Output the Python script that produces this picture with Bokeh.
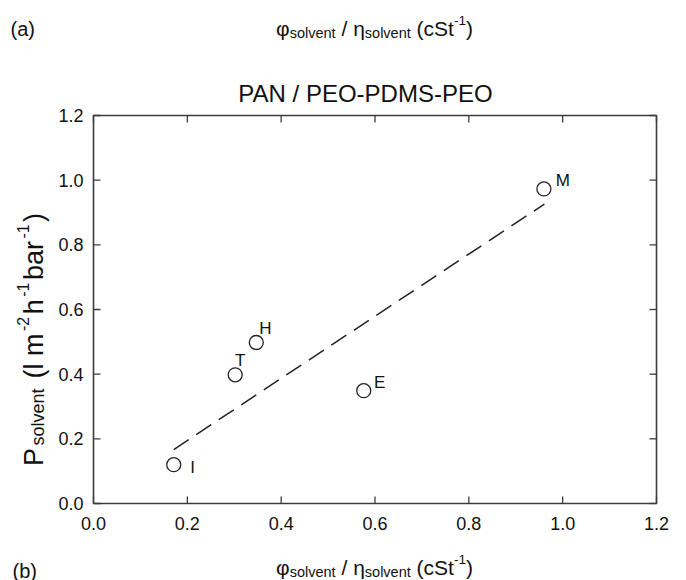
import math
from bokeh.plotting import figure
from bokeh.models import Label, LabelSet, ColumnDataSource, Range1d
from bokeh.core.properties import value
from bokeh.embed import file_html
from bokeh.resources import INLINE

# ---------------- data ----------------
solvent_names = ["I", "T", "H", "E", "M"]
phi_over_eta = [0.171, 0.302, 0.347, 0.576, 0.960]      # phi_solvent / eta_solvent (cSt^-1)
p_solvent = [0.120, 0.398, 0.498, 0.349, 0.973]         # permeance (l m^-2 h^-1 bar^-1)
fit_x = [0.171, 0.961]
fit_y = [0.167, 0.926]
tick_values = [0.0, 0.2, 0.4, 0.6, 0.8, 1.0, 1.2]
tick_labels = ["0.0", "0.2", "0.4", "0.6", "0.8", "1.0", "1.2"]
title_text = "PAN / PEO-PDMS-PEO"
panel_top = "(a)"
panel_bottom = "(b)"

# ---------------- layout ----------------
W, H = 686, 580
FL, FR, FT, FB = 93, 656, 115, 503          # plot box in pixels
FONT = "Liberation Sans"
INK = "#111111"
FRAME = "#3c3c3c"

x_min, x_max = tick_values[0], tick_values[-1]
y_min, y_max = tick_values[0], tick_values[-1]
KX = (FR - FL) / (x_max - x_min)
KY = (FB - FT) / (y_max - y_min)

p = figure(width=W, height=H,
           x_range=Range1d(x_min - FL / KX, x_max + (W - FR) / KX),
           y_range=Range1d(y_min - (H - FB) / KY, y_max + FT / KY),
           output_backend="svg", toolbar_location=None,
           x_axis_location=None, y_axis_location=None, min_border=0)
p.outline_line_color = None
p.xgrid.visible = False
p.ygrid.visible = False
p.background_fill_color = "white"
p.border_fill_color = "white"

# plot box and inward ticks on all four sides
p.quad(left=[x_min], right=[x_max], bottom=[y_min], top=[y_max],
       fill_color=None, line_color=FRAME, line_width=1.6)
n = len(tick_values)
tick_kw = dict(length=7, length_units="screen", line_color=FRAME, line_width=1.3)
p.ray(x=tick_values, y=[y_min] * n, angle=math.pi / 2, **tick_kw)
p.ray(x=tick_values, y=[y_max] * n, angle=-math.pi / 2, **tick_kw)
p.ray(x=[x_min] * n, y=tick_values, angle=0.0, **tick_kw)
p.ray(x=[x_max] * n, y=tick_values, angle=math.pi, **tick_kw)

tick_src = ColumnDataSource(dict(v=tick_values, t=tick_labels,
                                 x0=[x_min] * n, y0=[y_min] * n))
tick_txt = dict(source=tick_src, text="t", text_baseline="alphabetic",
                text_font=value(FONT), text_font_size=value("18px"), text_color=INK)
p.add_layout(LabelSet(x="v", y="y0", y_offset=-26, text_align="center", **tick_txt))
p.add_layout(LabelSet(x="x0", y="v", x_offset=-10, y_offset=-6.4, text_align="right", **tick_txt))

# data marks
p.line(fit_x, fit_y, line_color="#222222", line_width=1.5, line_dash="18 9")
p.scatter(phi_over_eta, p_solvent, marker="circle", size=14,
          fill_color=None, line_color="#222222", line_width=1.3)

# point labels (pixel offsets from each marker)
lab_dx = [19, 5, 9, 16, 19]
lab_dy = [-3, 14, 14, 8, 8]
for name, xv, yv, ddx, ddy in zip(solvent_names, phi_over_eta, p_solvent, lab_dx, lab_dy):
    p.add_layout(Label(x=xv, y=yv, x_offset=ddx, y_offset=ddy, text=name,
                       text_align="center", text_baseline="alphabetic",
                       text_font=FONT, text_font_size="17px", text_color=INK))

# ---------------- rich text helpers ----------------
ADV = {" ": .278, "(": .333, ")": .333, "/": .278, "-": .333, ".": .278,
       "0": .556, "1": .556, "2": .556, "a": .556, "b": .556, "c": .5, "e": .556,
       "h": .556, "l": .222, "m": .833, "n": .556, "o": .556, "r": .333, "s": .5,
       "t": .278, "v": .5, "S": .667, "P": .667, "φ": .65, "η": .556}


def tw(s, size):
    return sum(ADV.get(c, .556) for c in s) * size


def runs_width(runs, stretch=1.0):
    return sum(tw(t, s) for t, s, _ in runs) * stretch


def put(px, py, text, size, angle=0.0, align="left"):
    p.add_layout(Label(x=x_min, y=y_min, x_offset=px - FL, y_offset=FB - py, text=text,
                       angle=angle, text_align=align, text_baseline="alphabetic",
                       text_font=FONT, text_font_size=f"{size}px", text_color=INK))


def draw_runs(runs, x0, y0):
    d = 0.0
    for txt, size, shift in runs:
        lead = tw(txt[:len(txt) - len(txt.lstrip())], size)
        core = txt.strip()
        if core:
            put(x0 + d + lead, y0 - shift, core, size)
        d += tw(txt, size)


def draw_runs_vertical(runs, x0, y0, gap):
    # text reading bottom-to-top; a small extra gap between runs
    d = 0.0
    for txt, size, shift in runs:
        lead = tw(txt[:len(txt) - len(txt.lstrip())], size)
        core = txt.strip()
        if core:
            put(x0 - shift, y0 - (d + lead), core, size, angle=math.pi / 2)
        d += tw(txt, size) + gap


M, SB, SP = 21, 14.5, 13.5
SUB, SUP = -4, 8.5
x_label = [("φ", M, 0), ("solvent", SB, SUB), (" / ", M, 0), ("η", M, 0),
           ("solvent", SB, SUB), (" (cSt", M, 0), ("-1", SP, SUP), (")", M, 0)]
xw = runs_width(x_label)
draw_runs(x_label, 374 - xw / 2, 28)
draw_runs(x_label, 374 - xw / 2, 567)

YM, YSB, YSP = 27, 18, 16
YGAP = 2.5
y_label = [("P", YM, 0), ("solvent", YSB, -4.5), (" (l m", YM, 0), ("-2", YSP, 11),
           ("h", YM, 0), ("-1", YSP, 11), ("bar", YM, 0), ("-1", YSP, 11), (")", YM, 0)]
yw = runs_width(y_label) + YGAP * (len(y_label) - 1)
draw_runs_vertical(y_label, 33, 339 + yw / 2, YGAP)

put(10, 28, panel_top, 20)
put(12, 570, panel_bottom, 20)
put(365, 93, title_text, 24, align="center")

open("out.html", "w").write(file_html(p, INLINE))
